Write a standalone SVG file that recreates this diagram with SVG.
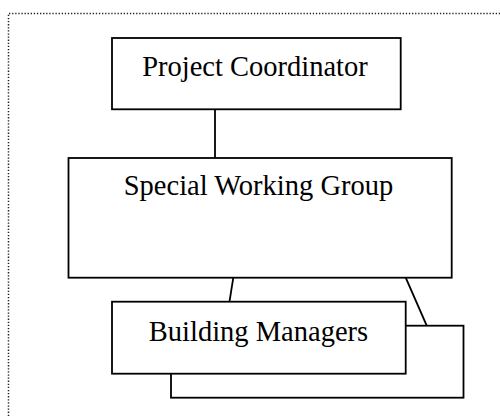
<svg xmlns="http://www.w3.org/2000/svg" width="500" height="416" viewBox="0 0 500 416">
<style>
.box{fill:#fff;stroke:#000;stroke-width:1.8}
.lbl{font-family:"Liberation Serif","Times New Roman",serif;font-size:28.5px;fill:#000;text-anchor:middle}
.conn{stroke:#000;stroke-width:1.8;fill:none}
.frame{stroke:#222;stroke-width:1.5;stroke-dasharray:1.3 1.8;fill:none}
</style>
<rect width="500" height="416" fill="#fff"/>
<path class="frame" d="M8.5 416 V13.5 H500"/>
<g id="connectors">
<line class="conn" x1="215" y1="109" x2="215" y2="158"/>
<line class="conn" x1="233.3" y1="277.7" x2="229.5" y2="301.7"/>
<line class="conn" x1="405.7" y1="277.7" x2="426.7" y2="325.7"/>
</g>
<g id="project-coordinator">
<rect class="box" x="112" y="38" width="288.7" height="71.3"/>
<text class="lbl" x="255" y="76">Project Coordinator</text>
</g>
<g id="special-working-group">
<rect class="box" x="68.5" y="158" width="383.2" height="119.7"/>
<text class="lbl" x="258.5" y="195">Special Working Group</text>
</g>
<g id="building-managers">
<rect class="box" x="171" y="325.7" width="292.5" height="72"/>
<rect class="box" x="112" y="301.7" width="293.7" height="72"/>
<text class="lbl" x="258.5" y="341">Building Managers</text>
</g>
</svg>
